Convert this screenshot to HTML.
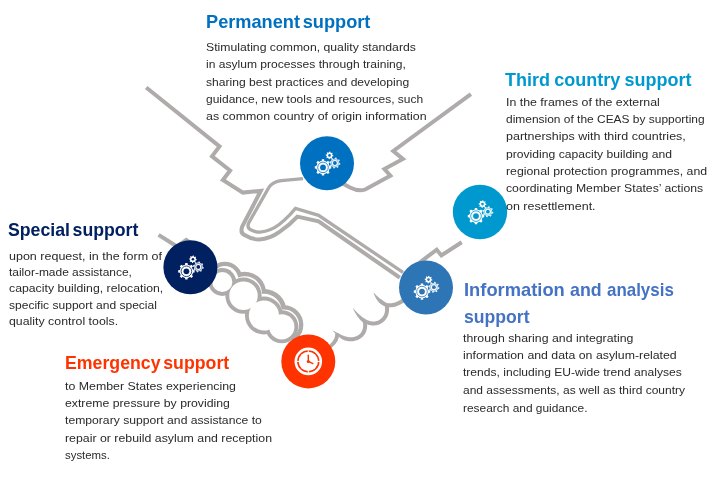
<!DOCTYPE html><html><head><meta charset="utf-8"><title>Support</title><style>
html,body{margin:0;padding:0;background:#fff;}
#c{position:relative;width:721px;height:479px;overflow:hidden;background:#fff;font-family:"Liberation Sans",sans-serif;}
.t{position:absolute;white-space:nowrap;transform-origin:0 0;font-weight:bold;word-spacing:-2.4px;font-size:18.5px;line-height:24px;height:24px;}
.b{position:absolute;white-space:nowrap;transform-origin:0 0;font-size:11.6px;line-height:18px;height:18px;color:#2a2a2a;}
#tx{position:absolute;left:0;top:0;width:721px;height:479px;will-change:transform;}
</style></head><body><div id="c">
<svg width="721" height="479" viewBox="0 0 721 479" style="position:absolute;left:0;top:0">
<g fill="none" stroke="#afabab" stroke-width="4" stroke-linejoin="miter" stroke-linecap="butt">
<path stroke-width="4" d="M146.2,87.5 L219.5,146.4 L212,156.4 L230.1,170.5 L222.9,180 L242.9,192.6 L260.8,190.9 L242.2,226.6 C240.8,230.5 241.5,233.5 244.5,235 C249.5,238 254.5,239.7 259.2,239.5 C266,239 273,236.5 279.5,231.8 C286,227.5 292,222.5 297.4,216.6 L318.6,221.4 L399.8,277.7"/>
<path stroke-width="3.3" d="M303,178.6 L281.4,180.6 C276,181.3 273.5,182.8 271.8,184.3 C270,185.8 269,187 268.4,188.2 L248.8,222.8 C247.3,226 248,228.2 250.2,229.5 C253.5,231.3 256.5,232.2 260,232.1 C267,231.5 274,228.6 279.5,224.3 C284,220.7 287,217.7 289.8,214.9 L295.5,208.3 L318.6,215.3 L403,272.4"/>
<path d="M470.9,94.1 L393.3,151 L402.9,159 L384.4,169 L390.4,175.8 L365.2,189.5 C360,191.5 356,190.5 350,187.5 L340,182"/>
<path d="M158.6,234.9 L177,246.5 L186.3,240 L200,250"/>
<path d="M461.7,242.2 L441.4,255.4 L436.7,249.7 L415,266"/>
</g><clipPath id="ur"><path d="M200,271 L320,361 L420,361 L420,200 L200,200Z"/></clipPath><g stroke="none">
<g clip-path="url(#ur)">
<circle cx="224.85" cy="279.45" r="17.75" fill="#afabab"/>
<circle cx="244.80" cy="293.20" r="21.35" fill="#afabab"/>
<circle cx="264.10" cy="311.40" r="22.40" fill="#afabab"/>
<circle cx="283.80" cy="324.80" r="19.55" fill="#afabab"/>
</g>
<circle cx="224.85" cy="279.45" r="13.45" fill="#fff"/>
<circle cx="244.80" cy="293.20" r="17.05" fill="#fff"/>
<circle cx="264.10" cy="311.40" r="17.60" fill="#fff"/>
<circle cx="283.80" cy="324.80" r="15.25" fill="#fff"/>
<circle cx="222.30" cy="282.00" r="13.95" fill="#afabab"/>
<circle cx="243.50" cy="295.70" r="18.15" fill="#afabab"/>
<circle cx="263.90" cy="315.50" r="18.95" fill="#afabab"/>
<circle cx="281.80" cy="326.80" r="16.55" fill="#afabab"/>
<circle cx="222.30" cy="282.00" r="10.05" fill="#fff"/>
<circle cx="243.50" cy="295.70" r="14.25" fill="#fff"/>
<circle cx="263.90" cy="315.50" r="15.05" fill="#fff"/>
<circle cx="281.80" cy="326.80" r="12.65" fill="#fff"/>
</g><g fill="none" stroke="#afabab" stroke-width="3.5" stroke-linejoin="miter" stroke-linecap="butt">
</g><g stroke="none" fill="#afabab">
<path d="M403.78,297.41 L402.93,298.07 L402.11,298.67 L401.30,299.23 L400.50,299.76 L399.72,300.24 L398.94,300.69 L398.18,301.10 L397.43,301.48 L396.70,301.81 L395.97,302.11 L395.25,302.38 L394.54,302.61 L393.84,302.81 L393.15,302.97 L392.47,303.10 L391.80,303.20 L391.12,303.27 L390.46,303.30 L389.79,303.30 L389.13,303.28 L388.47,303.22 L387.81,303.13 L387.15,303.01 L386.64,302.91 L386.27,302.71 L385.71,302.43 L385.17,302.12 L384.63,301.80 L384.10,301.47 L383.58,301.11 L383.06,300.74 L382.55,300.35 L382.05,299.95 L381.50,299.59 L380.94,299.22 L380.39,298.82 L379.83,298.41 L379.27,297.97 L378.72,297.52 L378.16,297.04 L377.60,296.54 L377.04,296.02 L376.47,295.48 L375.91,294.91 L375.33,294.33 L374.75,293.73 L374.15,293.11 L373.50,292.50 L373.50,292.50 L373.73,293.37 L374.02,294.19 L374.34,294.98 L374.68,295.76 L375.04,296.51 L375.41,297.24 L375.81,297.96 L376.21,298.65 L376.63,299.33 L377.07,299.99 L377.52,300.63 L377.99,301.25 L378.47,301.86 L378.97,302.45 L379.49,303.01 L380.08,303.49 L380.67,303.95 L381.28,304.39 L381.90,304.81 L382.53,305.21 L383.18,305.59 L383.83,305.95 L384.49,306.29 L385.36,306.69 L386.35,306.93 L387.19,307.08 L388.03,307.19 L388.88,307.27 L389.72,307.30 L390.57,307.30 L391.43,307.25 L392.28,307.17 L393.13,307.05 L393.99,306.88 L394.85,306.68 L395.71,306.44 L396.57,306.16 L397.43,305.84 L398.29,305.48 L399.16,305.09 L400.03,304.65 L400.90,304.18 L401.78,303.67 L402.66,303.13 L403.54,302.55 L404.43,301.93 L405.33,301.27 L406.22,300.59Z"/>
<path d="M384.64,304.88 L384.81,305.77 L384.94,306.61 L385.03,307.43 L385.09,308.24 L385.11,309.02 L385.09,309.79 L385.04,310.53 L384.95,311.26 L384.83,311.96 L384.68,312.65 L384.50,313.31 L384.28,313.95 L384.02,314.57 L383.74,315.17 L383.42,315.75 L383.07,316.31 L382.69,316.86 L382.27,317.38 L381.81,317.88 L381.32,318.36 L380.80,318.82 L380.23,319.26 L379.63,319.68 L379.01,320.06 L378.37,320.39 L377.72,320.68 L377.05,320.92 L376.36,321.12 L375.66,321.28 L374.95,321.39 L374.23,321.46 L373.50,321.49 L372.76,321.48 L372.02,321.42 L371.28,321.33 L370.53,321.19 L369.79,321.02 L369.05,320.81 L368.32,320.56 L367.60,320.27 L366.88,319.95 L366.19,319.59 L365.50,319.20 L364.84,318.78 L364.17,318.36 L363.49,317.95 L362.83,317.49 L362.18,317.00 L361.66,316.58 L361.15,316.16 L360.66,315.74 L360.19,315.33 L359.73,314.93 L359.29,314.54 L358.86,314.15 L358.45,313.76 L358.05,313.39 L357.66,313.01 L357.29,312.65 L356.92,312.28 L356.56,311.92 L356.20,311.57 L355.86,311.21 L355.52,310.86 L355.18,310.52 L354.85,310.17 L354.51,309.83 L354.18,309.50 L353.85,309.16 L353.51,308.83 L353.17,308.51 L352.80,308.20 L352.80,308.20 L352.98,308.64 L353.18,309.07 L353.39,309.49 L353.61,309.91 L353.82,310.33 L354.05,310.76 L354.28,311.18 L354.51,311.61 L354.76,312.04 L355.01,312.48 L355.26,312.92 L355.53,313.37 L355.81,313.82 L356.10,314.28 L356.40,314.75 L356.72,315.23 L357.05,315.71 L357.39,316.21 L357.75,316.71 L358.13,317.23 L358.52,317.75 L358.93,318.28 L359.36,318.83 L359.82,319.40 L360.45,320.12 L361.13,320.83 L361.84,321.50 L362.61,322.10 L363.44,322.62 L364.28,323.11 L365.15,323.55 L366.03,323.95 L366.94,324.31 L367.85,324.62 L368.78,324.89 L369.72,325.11 L370.67,325.28 L371.62,325.40 L372.58,325.47 L373.54,325.49 L374.50,325.45 L375.46,325.36 L376.41,325.21 L377.35,325.00 L378.28,324.73 L379.20,324.40 L380.11,324.00 L380.99,323.54 L381.83,323.02 L382.61,322.48 L383.35,321.90 L384.04,321.29 L384.70,320.65 L385.31,319.97 L385.87,319.27 L386.40,318.54 L386.87,317.78 L387.30,316.99 L387.69,316.18 L388.02,315.35 L388.32,314.50 L388.56,313.62 L388.76,312.73 L388.91,311.82 L389.02,310.90 L389.09,309.96 L389.11,309.01 L389.08,308.05 L389.01,307.07 L388.90,306.09 L388.75,305.09 L388.56,304.12Z"/>
<path d="M362.74,321.91 L362.90,322.67 L363.02,323.39 L363.10,324.10 L363.15,324.81 L363.16,325.50 L363.14,326.19 L363.09,326.86 L363.01,327.52 L362.89,328.17 L362.75,328.80 L362.57,329.41 L362.37,330.01 L362.13,330.59 L361.86,331.15 L361.57,331.69 L361.25,332.21 L360.90,332.71 L360.52,333.19 L360.11,333.64 L359.67,334.07 L359.20,334.48 L358.71,334.86 L358.18,335.22 L357.65,335.54 L356.93,335.90 L356.19,336.22 L355.46,336.49 L354.72,336.73 L353.99,336.92 L353.26,337.07 L352.53,337.18 L351.80,337.25 L351.08,337.29 L350.36,337.29 L349.64,337.26 L348.93,337.19 L348.23,337.09 L347.53,336.96 L346.84,336.80 L346.16,336.61 L345.48,336.39 L344.81,336.16 L344.13,335.97 L343.45,335.76 L342.78,335.51 L342.11,335.24 L341.46,334.95 L340.80,334.61 L340.40,334.41 L340.01,334.22 L339.63,334.02 L339.26,333.84 L338.90,333.65 L338.55,333.47 L338.20,333.29 L337.86,333.11 L337.52,332.93 L337.19,332.76 L336.86,332.58 L336.54,332.41 L336.21,332.23 L335.89,332.06 L335.57,331.88 L335.24,331.71 L334.92,331.53 L334.59,331.35 L334.26,331.17 L333.93,330.99 L333.59,330.81 L333.24,330.63 L332.88,330.46 L332.50,330.30 L332.50,330.30 L332.74,330.64 L332.99,330.95 L333.25,331.24 L333.50,331.53 L333.76,331.81 L334.02,332.09 L334.28,332.36 L334.54,332.63 L334.80,332.90 L335.06,333.17 L335.32,333.43 L335.59,333.69 L335.86,333.96 L336.13,334.22 L336.41,334.48 L336.69,334.75 L336.98,335.02 L337.28,335.29 L337.58,335.56 L337.89,335.84 L338.21,336.12 L338.53,336.40 L338.86,336.69 L339.20,336.99 L339.81,337.51 L340.47,338.02 L341.15,338.51 L341.86,338.98 L342.60,339.43 L343.36,339.84 L344.17,340.17 L345.00,340.44 L345.85,340.67 L346.71,340.87 L347.58,341.04 L348.47,341.16 L349.36,341.25 L350.27,341.29 L351.19,341.29 L352.11,341.24 L353.03,341.15 L353.96,341.00 L354.90,340.81 L355.83,340.57 L356.76,340.27 L357.69,339.93 L358.62,339.52 L359.55,339.06 L360.33,338.60 L361.06,338.10 L361.74,337.57 L362.39,337.00 L363.00,336.40 L363.57,335.77 L364.10,335.11 L364.58,334.42 L365.03,333.70 L365.43,332.96 L365.79,332.20 L366.11,331.42 L366.39,330.61 L366.62,329.80 L366.81,328.96 L366.96,328.12 L367.07,327.26 L367.14,326.39 L367.16,325.51 L367.14,324.63 L367.08,323.74 L366.98,322.85 L366.84,321.95 L366.66,321.09Z"/>
</g><g fill="none" stroke="#afabab" stroke-width="3.8" stroke-linejoin="miter" stroke-linecap="butt">
<path d="M337,333.5 C337.8,338 335.5,342 330.4,346.4 L325,350.5"/>
</g>
<circle cx="327" cy="163.3" r="27" fill="#0070c0"/>
<path d="M321.66,160.94 L321.85,159.18 L324.15,159.18 L324.34,160.94 L326.62,161.88 L328.00,160.78 L329.62,162.40 L328.52,163.78 L329.46,166.06 L331.22,166.25 L331.22,168.55 L329.46,168.74 L328.52,171.02 L329.62,172.40 L328.00,174.02 L326.62,172.92 L324.34,173.86 L324.15,175.62 L321.85,175.62 L321.66,173.86 L319.38,172.92 L318.00,174.02 L316.38,172.40 L317.48,171.02 L316.54,168.74 L314.78,168.55 L314.78,166.25 L316.54,166.06 L317.48,163.78 L316.38,162.40 L318.00,160.78 L319.38,161.88Z" fill="#fff"/>
<circle cx="323.0" cy="167.4" r="6.6" fill="#fff"/>
<circle cx="323.0" cy="167.4" r="5.3" fill="none" stroke="#0070c0" stroke-width="0.8"/>
<circle cx="323.0" cy="167.4" r="2.9" fill="#0070c0"/>
<g opacity="0.9"><path d="M334.88,158.70 L335.24,157.51 L336.73,157.81 L336.59,159.05 L337.93,159.95 L339.02,159.36 L339.86,160.62 L338.89,161.40 L339.20,162.98 L340.39,163.34 L340.09,164.83 L338.85,164.69 L337.95,166.03 L338.54,167.12 L337.28,167.96 L336.50,166.99 L334.92,167.30 L334.56,168.49 L333.07,168.19 L333.21,166.95 L331.87,166.05 L330.78,166.64 L329.94,165.38 L330.91,164.60 L330.60,163.02 L329.41,162.66 L329.71,161.17 L330.95,161.31 L331.85,159.97 L331.26,158.88 L332.52,158.04 L333.30,159.01Z" fill="#fff"/>
<circle cx="334.9" cy="163.0" r="4.3" fill="#fff"/></g>
<circle cx="334.9" cy="163.0" r="3.55" fill="none" stroke="#0070c0" stroke-width="0.5" opacity="0.75"/>
<circle cx="334.9" cy="163.0" r="2.6" fill="#fff"/>
<circle cx="334.9" cy="163.0" r="1.9" fill="#0070c0"/>
<path d="M329.21,152.62 L329.35,151.60 L330.40,151.71 L330.34,152.73 L331.26,153.22 L332.08,152.61 L332.75,153.42 L331.98,154.10 L332.28,155.11 L333.30,155.25 L333.19,156.30 L332.17,156.24 L331.68,157.16 L332.29,157.98 L331.48,158.65 L330.80,157.88 L329.79,158.18 L329.65,159.20 L328.60,159.09 L328.66,158.07 L327.74,157.58 L326.92,158.19 L326.25,157.38 L327.02,156.70 L326.72,155.69 L325.70,155.55 L325.81,154.50 L326.83,154.56 L327.32,153.64 L326.71,152.82 L327.52,152.15 L328.20,152.92Z" fill="#fff"/>
<circle cx="329.5" cy="155.4" r="2.8" fill="#fff"/>
<circle cx="329.5" cy="155.4" r="1.3" fill="#0070c0"/>
<circle cx="480" cy="212" r="27.2" fill="#0099cf"/>
<path d="M474.66,209.64 L474.85,207.88 L477.15,207.88 L477.34,209.64 L479.62,210.58 L481.00,209.48 L482.62,211.10 L481.52,212.48 L482.46,214.76 L484.22,214.95 L484.22,217.25 L482.46,217.44 L481.52,219.72 L482.62,221.10 L481.00,222.72 L479.62,221.62 L477.34,222.56 L477.15,224.32 L474.85,224.32 L474.66,222.56 L472.38,221.62 L471.00,222.72 L469.38,221.10 L470.48,219.72 L469.54,217.44 L467.78,217.25 L467.78,214.95 L469.54,214.76 L470.48,212.48 L469.38,211.10 L471.00,209.48 L472.38,210.58Z" fill="#fff"/>
<circle cx="476.0" cy="216.1" r="6.6" fill="#fff"/>
<circle cx="476.0" cy="216.1" r="5.3" fill="none" stroke="#0099cf" stroke-width="0.8"/>
<circle cx="476.0" cy="216.1" r="2.9" fill="#0099cf"/>
<g opacity="0.9"><path d="M487.88,207.40 L488.24,206.21 L489.73,206.51 L489.59,207.75 L490.93,208.65 L492.02,208.06 L492.86,209.32 L491.89,210.10 L492.20,211.68 L493.39,212.04 L493.09,213.53 L491.85,213.39 L490.95,214.73 L491.54,215.82 L490.28,216.66 L489.50,215.69 L487.92,216.00 L487.56,217.19 L486.07,216.89 L486.21,215.65 L484.87,214.75 L483.78,215.34 L482.94,214.08 L483.91,213.30 L483.60,211.72 L482.41,211.36 L482.71,209.87 L483.95,210.01 L484.85,208.67 L484.26,207.58 L485.52,206.74 L486.30,207.71Z" fill="#fff"/>
<circle cx="487.9" cy="211.7" r="4.3" fill="#fff"/></g>
<circle cx="487.9" cy="211.7" r="3.55" fill="none" stroke="#0099cf" stroke-width="0.5" opacity="0.75"/>
<circle cx="487.9" cy="211.7" r="2.6" fill="#fff"/>
<circle cx="487.9" cy="211.7" r="1.9" fill="#0099cf"/>
<path d="M482.21,201.32 L482.35,200.30 L483.40,200.41 L483.34,201.43 L484.26,201.92 L485.08,201.31 L485.75,202.12 L484.98,202.80 L485.28,203.81 L486.30,203.95 L486.19,205.00 L485.17,204.94 L484.68,205.86 L485.29,206.68 L484.48,207.35 L483.80,206.58 L482.79,206.88 L482.65,207.90 L481.60,207.79 L481.66,206.77 L480.74,206.28 L479.92,206.89 L479.25,206.08 L480.02,205.40 L479.72,204.39 L478.70,204.25 L478.81,203.20 L479.83,203.26 L480.32,202.34 L479.71,201.52 L480.52,200.85 L481.20,201.62Z" fill="#fff"/>
<circle cx="482.5" cy="204.1" r="2.8" fill="#fff"/>
<circle cx="482.5" cy="204.1" r="1.3" fill="#0099cf"/>
<circle cx="190.4" cy="267.2" r="27" fill="#002060"/>
<path d="M185.06,264.84 L185.25,263.08 L187.55,263.08 L187.74,264.84 L190.02,265.78 L191.40,264.68 L193.02,266.30 L191.92,267.68 L192.86,269.96 L194.62,270.15 L194.62,272.45 L192.86,272.64 L191.92,274.92 L193.02,276.30 L191.40,277.92 L190.02,276.82 L187.74,277.76 L187.55,279.52 L185.25,279.52 L185.06,277.76 L182.78,276.82 L181.40,277.92 L179.78,276.30 L180.88,274.92 L179.94,272.64 L178.18,272.45 L178.18,270.15 L179.94,269.96 L180.88,267.68 L179.78,266.30 L181.40,264.68 L182.78,265.78Z" fill="#fff"/>
<circle cx="186.4" cy="271.3" r="6.6" fill="#fff"/>
<circle cx="186.4" cy="271.3" r="5.3" fill="none" stroke="#002060" stroke-width="0.8"/>
<circle cx="186.4" cy="271.3" r="2.9" fill="#002060"/>
<g opacity="0.9"><path d="M198.28,262.60 L198.64,261.41 L200.13,261.71 L199.99,262.95 L201.33,263.85 L202.42,263.26 L203.26,264.52 L202.29,265.30 L202.60,266.88 L203.79,267.24 L203.49,268.73 L202.25,268.59 L201.35,269.93 L201.94,271.02 L200.68,271.86 L199.90,270.89 L198.32,271.20 L197.96,272.39 L196.47,272.09 L196.61,270.85 L195.27,269.95 L194.18,270.54 L193.34,269.28 L194.31,268.50 L194.00,266.92 L192.81,266.56 L193.11,265.07 L194.35,265.21 L195.25,263.87 L194.66,262.78 L195.92,261.94 L196.70,262.91Z" fill="#fff"/>
<circle cx="198.3" cy="266.9" r="4.3" fill="#fff"/></g>
<circle cx="198.3" cy="266.9" r="3.55" fill="none" stroke="#002060" stroke-width="0.5" opacity="0.75"/>
<circle cx="198.3" cy="266.9" r="2.6" fill="#fff"/>
<circle cx="198.3" cy="266.9" r="1.9" fill="#002060"/>
<path d="M192.61,256.52 L192.75,255.50 L193.80,255.61 L193.74,256.63 L194.66,257.12 L195.48,256.51 L196.15,257.32 L195.38,258.00 L195.68,259.01 L196.70,259.15 L196.59,260.20 L195.57,260.14 L195.08,261.06 L195.69,261.88 L194.88,262.55 L194.20,261.78 L193.19,262.08 L193.05,263.10 L192.00,262.99 L192.06,261.97 L191.14,261.48 L190.32,262.09 L189.65,261.28 L190.42,260.60 L190.12,259.59 L189.10,259.45 L189.21,258.40 L190.23,258.46 L190.72,257.54 L190.11,256.72 L190.92,256.05 L191.60,256.82Z" fill="#fff"/>
<circle cx="192.9" cy="259.3" r="2.8" fill="#fff"/>
<circle cx="192.9" cy="259.3" r="1.3" fill="#002060"/>
<circle cx="426" cy="287.5" r="27" fill="#2e75b6"/>
<path d="M420.66,285.14 L420.85,283.38 L423.15,283.38 L423.34,285.14 L425.62,286.08 L427.00,284.98 L428.62,286.60 L427.52,287.98 L428.46,290.26 L430.22,290.45 L430.22,292.75 L428.46,292.94 L427.52,295.22 L428.62,296.60 L427.00,298.22 L425.62,297.12 L423.34,298.06 L423.15,299.82 L420.85,299.82 L420.66,298.06 L418.38,297.12 L417.00,298.22 L415.38,296.60 L416.48,295.22 L415.54,292.94 L413.78,292.75 L413.78,290.45 L415.54,290.26 L416.48,287.98 L415.38,286.60 L417.00,284.98 L418.38,286.08Z" fill="#fff"/>
<circle cx="422.0" cy="291.6" r="6.6" fill="#fff"/>
<circle cx="422.0" cy="291.6" r="5.3" fill="none" stroke="#2e75b6" stroke-width="0.8"/>
<circle cx="422.0" cy="291.6" r="2.9" fill="#2e75b6"/>
<g opacity="0.9"><path d="M433.88,282.90 L434.24,281.71 L435.73,282.01 L435.59,283.25 L436.93,284.15 L438.02,283.56 L438.86,284.82 L437.89,285.60 L438.20,287.18 L439.39,287.54 L439.09,289.03 L437.85,288.89 L436.95,290.23 L437.54,291.32 L436.28,292.16 L435.50,291.19 L433.92,291.50 L433.56,292.69 L432.07,292.39 L432.21,291.15 L430.87,290.25 L429.78,290.84 L428.94,289.58 L429.91,288.80 L429.60,287.22 L428.41,286.86 L428.71,285.37 L429.95,285.51 L430.85,284.17 L430.26,283.08 L431.52,282.24 L432.30,283.21Z" fill="#fff"/>
<circle cx="433.9" cy="287.2" r="4.3" fill="#fff"/></g>
<circle cx="433.9" cy="287.2" r="3.55" fill="none" stroke="#2e75b6" stroke-width="0.5" opacity="0.75"/>
<circle cx="433.9" cy="287.2" r="2.6" fill="#fff"/>
<circle cx="433.9" cy="287.2" r="1.9" fill="#2e75b6"/>
<path d="M428.21,276.82 L428.35,275.80 L429.40,275.91 L429.34,276.93 L430.26,277.42 L431.08,276.81 L431.75,277.62 L430.98,278.30 L431.28,279.31 L432.30,279.45 L432.19,280.50 L431.17,280.44 L430.68,281.36 L431.29,282.18 L430.48,282.85 L429.80,282.08 L428.79,282.38 L428.65,283.40 L427.60,283.29 L427.66,282.27 L426.74,281.78 L425.92,282.39 L425.25,281.58 L426.02,280.90 L425.72,279.89 L424.70,279.75 L424.81,278.70 L425.83,278.76 L426.32,277.84 L425.71,277.02 L426.52,276.35 L427.20,277.12Z" fill="#fff"/>
<circle cx="428.5" cy="279.6" r="2.8" fill="#fff"/>
<circle cx="428.5" cy="279.6" r="1.3" fill="#2e75b6"/>
<circle cx="308.3" cy="361.4" r="27" fill="#ff3300"/>
<circle cx="308.3" cy="361.4" r="12.5" fill="none" stroke="#fff" stroke-width="2.6"/>
<circle cx="308.3" cy="361.4" r="9.6" fill="#fff"/>
<path d="M308.3,348.4 V353.4 M308.3,374.4 V369.4 M295.3,361.4 H300.3 M321.3,361.4 H316.3" stroke="#fff" stroke-width="1.0"/>
<path d="M308.3,361.7 V355.2" stroke="#ff3300" stroke-width="1.4" stroke-linecap="round"/>
<path d="M308.3,361.4 L312.90000000000003,363.59999999999997" stroke="#ff3300" stroke-width="1.3" stroke-linecap="round"/>
<circle cx="308.3" cy="361.4" r="1.5" fill="#ff3300"/>
</svg>
<div id="tx">
<div class="t" style="left:205.8px;top:10.2px;transform:scaleX(0.9831);color:#0070c0;">Permanent support</div>
<div class="b" style="left:206.3px;top:37.8px;transform:scaleX(1.0541);">Stimulating common, quality standards</div>
<div class="b" style="left:206.3px;top:55.2px;transform:scaleX(1.0409);">in asylum processes through training,</div>
<div class="b" style="left:206.3px;top:72.6px;transform:scaleX(1.0439);">sharing best practices and developing</div>
<div class="b" style="left:206.3px;top:90.0px;transform:scaleX(1.0337);">guidance, new tools and resources, such</div>
<div class="b" style="left:206.3px;top:107.4px;transform:scaleX(1.0698);">as common country of origin information</div>
<div class="t" style="left:505.1px;top:67.9px;transform:scaleX(0.9727);color:#0099cf;word-spacing:-0.8px;">Third country support</div>
<div class="b" style="left:505.7px;top:92.7px;transform:scaleX(1.0654);">In the frames of the external</div>
<div class="b" style="left:505.7px;top:109.9px;transform:scaleX(1.0306);">dimension of the CEAS by supporting</div>
<div class="b" style="left:505.7px;top:127.2px;transform:scaleX(1.0773);">partnerships with third countries,</div>
<div class="b" style="left:505.7px;top:144.5px;transform:scaleX(1.0469);">providing capacity building and</div>
<div class="b" style="left:505.7px;top:162.2px;transform:scaleX(1.0614);">regional protection programmes, and</div>
<div class="b" style="left:505.7px;top:179.4px;transform:scaleX(1.0534);">coordinating Member States’ actions</div>
<div class="b" style="left:505.7px;top:196.9px;transform:scaleX(1.0777);">on resettlement.</div>
<div class="t" style="left:7.9px;top:217.8px;transform:scaleX(0.9561);color:#002060;">Special support</div>
<div class="b" style="left:8.8px;top:246.9px;transform:scaleX(1.0790);">upon request, in the form of</div>
<div class="b" style="left:8.8px;top:263.2px;transform:scaleX(1.0309);">tailor-made assistance,</div>
<div class="b" style="left:8.8px;top:279.4px;transform:scaleX(1.0587);">capacity building, relocation,</div>
<div class="b" style="left:8.8px;top:295.8px;transform:scaleX(1.0384);">specific support and special</div>
<div class="b" style="left:8.8px;top:312.1px;transform:scaleX(1.0647);">quality control tools.</div>
<div class="t" style="left:65.3px;top:351.1px;transform:scaleX(0.9583);color:#ff3300;">Emergency support</div>
<div class="b" style="left:65.2px;top:376.6px;transform:scaleX(1.0656);">to Member States experiencing</div>
<div class="b" style="left:65.2px;top:393.9px;transform:scaleX(1.0574);">extreme pressure by providing</div>
<div class="b" style="left:65.2px;top:411.4px;transform:scaleX(1.0493);">temporary support and assistance to</div>
<div class="b" style="left:65.2px;top:428.7px;transform:scaleX(1.0636);">repair or rebuild asylum and reception</div>
<div class="b" style="left:65.2px;top:446.1px;transform:scaleX(0.9836);">systems.</div>
<div class="t" style="left:463.7px;top:278.2px;transform:scaleX(0.9907);color:#4472c4;">Information</div>
<div class="t" style="left:570.2px;top:278.2px;transform:scaleX(0.9608);color:#4472c4;">and</div>
<div class="t" style="left:607.2px;top:278.2px;transform:scaleX(0.9147);color:#4472c4;">analysis</div>
<div class="t" style="left:463.6px;top:305.0px;transform:scaleX(0.9512);color:#4472c4;">support</div>
<div class="b" style="left:462.9px;top:328.7px;transform:scaleX(1.0617);">through sharing and integrating</div>
<div class="b" style="left:462.9px;top:345.6px;transform:scaleX(1.0628);">information and data on asylum-related</div>
<div class="b" style="left:462.9px;top:363.1px;transform:scaleX(1.0410);">trends, including EU-wide trend analyses</div>
<div class="b" style="left:462.9px;top:380.7px;transform:scaleX(1.0345);">and assessments, as well as third country</div>
<div class="b" style="left:462.9px;top:398.6px;transform:scaleX(1.0273);">research and guidance.</div>
</div></div></body></html>
